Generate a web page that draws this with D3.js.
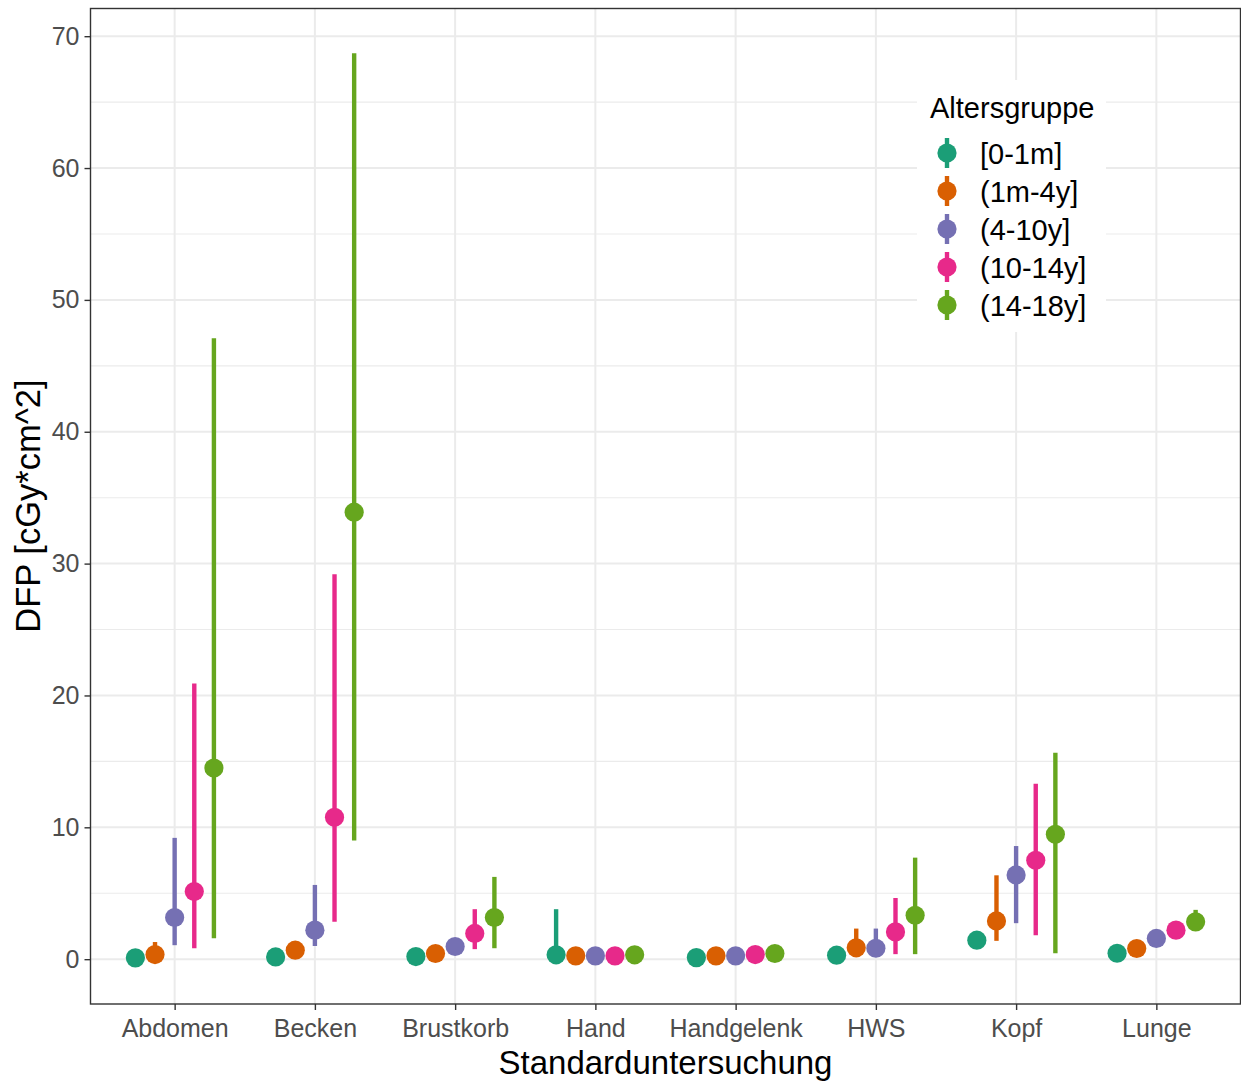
<!DOCTYPE html>
<html>
<head>
<meta charset="utf-8">
<script src="https://cdn.jsdelivr.net/npm/d3@7/dist/d3.min.js"></script>
<style>
  body { margin: 0; background: #ffffff; }
  text { font-family: "Liberation Sans", Arial, sans-serif; }
</style>
</head>
<body>
<svg id="chart" width="1241" height="1081"></svg>
<script>
// Examination types on the x axis
const categories = ["Abdomen", "Becken", "Brustkorb", "Hand", "Handgelenk", "HWS", "Kopf", "Lunge"];
// Age groups (legend order)
const groups = ["[0-1m]", "(1m-4y]", "(4-10y]", "(10-14y]", "(14-18y]"];
const groupColors = ["#1B9E77", "#D95F02", "#7570B3", "#E7298A", "#66A61E"];

// Central DFP value per age group (rows) and examination (columns)
const pointValues = [
  [0.10, 0.17, 0.20, 0.33, 0.12, 0.30, 1.44, 0.45],
  [0.35, 0.68, 0.43, 0.25, 0.25, 0.86, 2.90, 0.81],
  [3.16, 2.20, 0.96, 0.25, 0.25, 0.83, 6.39, 1.57],
  [5.13, 10.76, 1.95, 0.25, 0.35, 2.07, 7.50, 2.20],
  [14.50, 33.90, 3.16, 0.33, 0.43, 3.33, 9.47, 2.83]
];
// Lower end of each range
const lowerValues = [
  [0.02, 0.05, 0.08, 0.10, 0.03, 0.10, 1.00, 0.20],
  [0.10, 0.30, 0.20, 0.10, 0.10, 0.40, 1.39, 0.50],
  [1.06, 1.00, 0.60, 0.10, 0.10, 0.40, 2.73, 1.10],
  [0.83, 2.83, 0.76, 0.10, 0.15, 0.38, 1.82, 1.70],
  [1.59, 9.00, 0.83, 0.10, 0.20, 0.38, 0.45, 2.20]
];
// Upper end of each range
const upperValues = [
  [0.30, 0.40, 0.40, 3.79, 0.30, 0.60, 1.90, 0.70],
  [1.30, 1.00, 0.70, 0.50, 0.50, 2.32, 6.36, 1.20],
  [9.20, 5.63, 1.40, 0.50, 0.50, 2.32, 8.58, 2.00],
  [20.90, 29.20, 3.79, 0.50, 0.60, 4.64, 13.30, 2.70],
  [47.10, 68.70, 6.24, 0.60, 0.80, 7.70, 15.66, 3.74]
];

const yTicks = [0, 10, 20, 30, 40, 50, 60, 70];
const yMinorTicks = [5, 15, 25, 35, 45, 55, 65];

const svg = d3.select("#chart");
const panel = { left: 90.5, right: 1240.5, top: 8.5, bottom: 1004 };

const x = d3.scalePoint()
  .domain(categories)
  .range([panel.left, panel.right])
  .padding(0.6);

const y = d3.scaleLinear()
  .domain([-3.4, 72.1])
  .range([panel.bottom, panel.top]);

const dodgeStep = x.step() * 0.7 / groups.length;
const xPos = (ci, gi) => x(categories[ci]) + (gi - (groups.length - 1) / 2) * dodgeStep;

// Panel background
svg.append("rect")
  .attr("x", panel.left).attr("y", panel.top)
  .attr("width", panel.right - panel.left).attr("height", panel.bottom - panel.top)
  .attr("fill", "#ffffff");

const grid = svg.append("g");
grid.selectAll("line.minor")
  .data(yMinorTicks)
  .join("line")
  .attr("x1", panel.left).attr("x2", panel.right)
  .attr("y1", d => y(d)).attr("y2", d => y(d))
  .attr("stroke", "#EBEBEB").attr("stroke-width", 1.1);
grid.selectAll("line.major")
  .data(yTicks)
  .join("line")
  .attr("x1", panel.left).attr("x2", panel.right)
  .attr("y1", d => y(d)).attr("y2", d => y(d))
  .attr("stroke", "#EBEBEB").attr("stroke-width", 2);
grid.selectAll("line.vmajor")
  .data(categories)
  .join("line")
  .attr("x1", d => x(d)).attr("x2", d => x(d))
  .attr("y1", panel.top).attr("y2", panel.bottom)
  .attr("stroke", "#EBEBEB").attr("stroke-width", 2);

// Flatten the table into one record per range
const records = [];
groups.forEach((g, gi) => {
  categories.forEach((c, ci) => {
    records.push({
      gi, ci,
      value: pointValues[gi][ci],
      low: lowerValues[gi][ci],
      high: upperValues[gi][ci]
    });
  });
});

const marks = svg.append("g");
marks.selectAll("line.range")
  .data(records)
  .join("line")
  .attr("x1", d => xPos(d.ci, d.gi)).attr("x2", d => xPos(d.ci, d.gi))
  .attr("y1", d => y(d.low)).attr("y2", d => y(d.high))
  .attr("stroke", d => groupColors[d.gi])
  .attr("stroke-width", 4.4);
marks.selectAll("circle.pt")
  .data(records)
  .join("circle")
  .attr("cx", d => xPos(d.ci, d.gi))
  .attr("cy", d => y(d.value))
  .attr("r", 9.6)
  .attr("fill", d => groupColors[d.gi]);

// Panel border
svg.append("rect")
  .attr("x", panel.left).attr("y", panel.top)
  .attr("width", panel.right - panel.left).attr("height", panel.bottom - panel.top)
  .attr("fill", "none").attr("stroke", "#333333").attr("stroke-width", 1.4);

// Axes
const yAxis = d3.axisLeft(y).tickValues(yTicks).tickSize(6).tickPadding(5);
const gy = svg.append("g").attr("transform", `translate(${panel.left},0)`).call(yAxis);
gy.select(".domain").remove();
gy.selectAll(".tick line").attr("stroke", "#333333").attr("stroke-width", 1.4);
gy.selectAll(".tick text")
  .attr("fill", "#4D4D4D")
  .style("font-size", "25px")
  .style("font-family", "'Liberation Sans', Arial, sans-serif");

const xAxis = d3.axisBottom(x).tickSize(6).tickPadding(9);
const gx = svg.append("g").attr("transform", `translate(0,${panel.bottom})`).call(xAxis);
gx.select(".domain").remove();
gx.selectAll(".tick line").attr("stroke", "#333333").attr("stroke-width", 1.4);
gx.selectAll(".tick text")
  .attr("fill", "#4D4D4D")
  .attr("dy", "0.71em")
  .style("font-size", "25px")
  .style("font-family", "'Liberation Sans', Arial, sans-serif");

// Axis titles
svg.append("text")
  .attr("x", (panel.left + panel.right) / 2)
  .attr("y", 1074)
  .attr("text-anchor", "middle")
  .attr("fill", "#000000")
  .style("font-size", "33px")
  .text("Standarduntersuchung");

svg.append("text")
  .attr("transform", "translate(40,506) rotate(-90)")
  .attr("text-anchor", "middle")
  .attr("fill", "#000000")
  .style("font-size", "34.5px")
  .text("DFP [cGy*cm^2]");

// Legend
const legend = svg.append("g");
legend.append("rect")
  .attr("x", 917).attr("y", 80)
  .attr("width", 189).attr("height", 252)
  .attr("fill", "#ffffff");
legend.append("text")
  .attr("x", 930).attr("y", 118)
  .attr("fill", "#000000")
  .style("font-size", "29px")
  .text("Altersgruppe");
const keyY = d3.scalePoint().domain(groups).range([153, 305]);
const items = legend.selectAll("g.item")
  .data(groups)
  .join("g")
  .attr("transform", d => `translate(947,${keyY(d)})`);
items.append("line")
  .attr("y1", -15).attr("y2", 15)
  .attr("stroke", (d, i) => groupColors[i])
  .attr("stroke-width", 4.4);
items.append("circle")
  .attr("r", 9.6)
  .attr("fill", (d, i) => groupColors[i]);
items.append("text")
  .attr("x", 33)
  .attr("dy", "0.38em")
  .attr("fill", "#000000")
  .style("font-size", "29px")
  .text(d => d);
</script>
</body>
</html>
